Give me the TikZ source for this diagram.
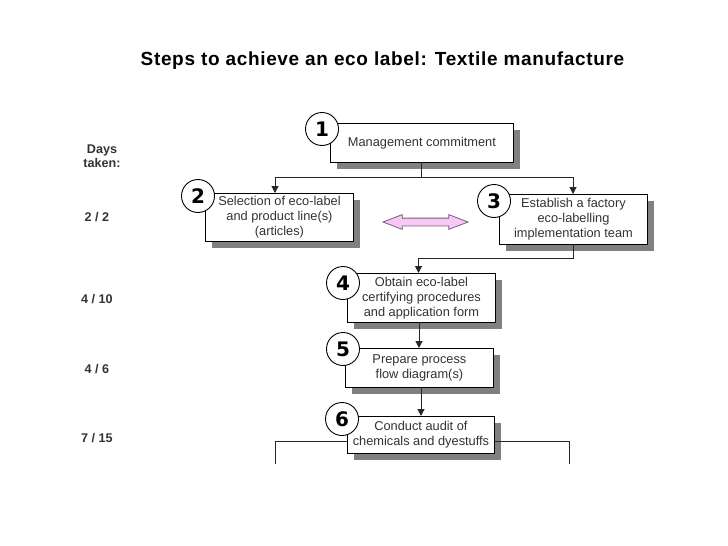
\documentclass[tikz,border=0pt]{standalone}
\usepackage{fontspec}
\setmainfont{Liberation Sans}
\newfontfamily\numfont{DejaVu Sans}
\usetikzlibrary{shapes.arrows,arrows.meta}
\definecolor{txt}{HTML}{333333}
\definecolor{shad}{HTML}{808080}
\definecolor{pinkf}{HTML}{F8C8F4}
\definecolor{pinkd}{HTML}{7A5A80}
\tikzset{
 x=1pt,y=-1pt,
 stepbox/.style={draw=black,line width=0.9pt,fill=white,inner sep=0pt,align=center,text=txt,font=\fontsize{12.8}{15}\selectfont,anchor=north west},
 shadowbox/.style={fill=shad,draw=none},
 numc/.style={circle,draw=black,line width=0.9pt,fill=white,minimum size=33pt,inner sep=0pt,font=\fontsize{20}{21}\numfont\bfseries},
 conn/.style={draw=black!85,line width=1pt},
 arr/.style={conn,-{Triangle[length=7pt,width=7pt]}},
 days/.style={font=\fontsize{12.6}{14}\selectfont\bfseries,text=txt,align=center,inner sep=0pt},
}
\newcommand{\stepb}[6]{% name x1 y1 x2 y2 text
 \fill[shadowbox] (#2+7,#3+7) rectangle (#4+7,#5+7);
 \node[stepbox,minimum width=#4-#2,minimum height=#5-#3] (#1) at (#2,#3) {#6};
}
\begin{document}
\begin{tikzpicture}
\useasboundingbox (0,0) rectangle (728,546);
\node[font=\fontsize{19}{21}\selectfont\bfseries,text=black,inner sep=0pt] (title) at (382.5,60.5) {\addfontfeature{LetterSpace=3.5}Steps to achieve an eco label: Textile manufacture};
\node[days] (d0) at (102,156) {Days\\taken:};
\node[days] (d1) at (97,217) {2 / 2};
\node[days] (d2) at (97,299) {4 / 10};
\node[days] (d3) at (97,369) {4 / 6};
\node[days] (d4) at (97,438) {7 / 15};
\stepb{b1}{330}{123}{513}{162}{Management commitment}
\stepb{b2}{205}{193}{353}{241}{Selection of eco-label\\and product line(s)\\(articles)}
\stepb{b3}{499}{194}{647}{244}{Establish a factory\\eco-labelling\\implementation team}
\stepb{b4}{347}{273}{495}{322}{Obtain eco-label\\certifying procedures\\and application form}
\stepb{b5}{345}{348}{493}{387}{Prepare process\\flow diagram(s)}
\stepb{b6}{347}{416}{494}{453}{Conduct audit of\\chemicals and dyestuffs}
\coordinate (t) at (421,162);
\coordinate (j1) at (421,177);
\coordinate (j2) at (275,177);
\coordinate (j3) at (573,177);
\coordinate (a2) at (275,193);
\coordinate (a3) at (573,194);
\coordinate (s3) at (573,244);
\coordinate (j4) at (573,258);
\coordinate (j5) at (418.5,258);
\coordinate (a4) at (418.5,273);
\draw[conn] (t) -- (j1);
\draw[conn] (j2) -- (j3);
\draw[arr] (j2) -- (a2);
\draw[arr] (j3) -- (a3);
\draw[conn] (s3) -- (j4) -- (j5);
\draw[arr] (j5) -- (a4);
\coordinate (c4) at (419,322);
\coordinate (a5) at (419,348);
\draw[arr] (c4) -- (a5);
\coordinate (c5) at (421,387);
\coordinate (a6) at (421,416);
\draw[arr] (c5) -- (a6);
\coordinate (l0) at (347,441);
\coordinate (l1) at (275,441);
\coordinate (l2) at (275,464);
\coordinate (r0) at (494,441);
\coordinate (r1) at (569,441);
\coordinate (r2) at (569,464);
\draw[conn] (l0) -- (l1) -- (l2);
\draw[conn] (r0) -- (r1) -- (r2);
\node[numc] (n1) at (322,129) {1};
\node[numc] (n2) at (198,196) {2};
\node[numc] (n3) at (494,201) {3};
\node[numc] (n4) at (343,283) {4};
\node[numc] (n5) at (343,349) {5};
\node[numc] (n6) at (342,419) {6};
\node[double arrow,draw=pinkd,fill=pinkf,line width=0.8pt,minimum height=85pt,double arrow head extend=3.5pt,double arrow tip angle=42,inner sep=0pt] (da) at (425.5,222) {\rule{0pt}{7pt}};
\end{tikzpicture}
\end{document}
